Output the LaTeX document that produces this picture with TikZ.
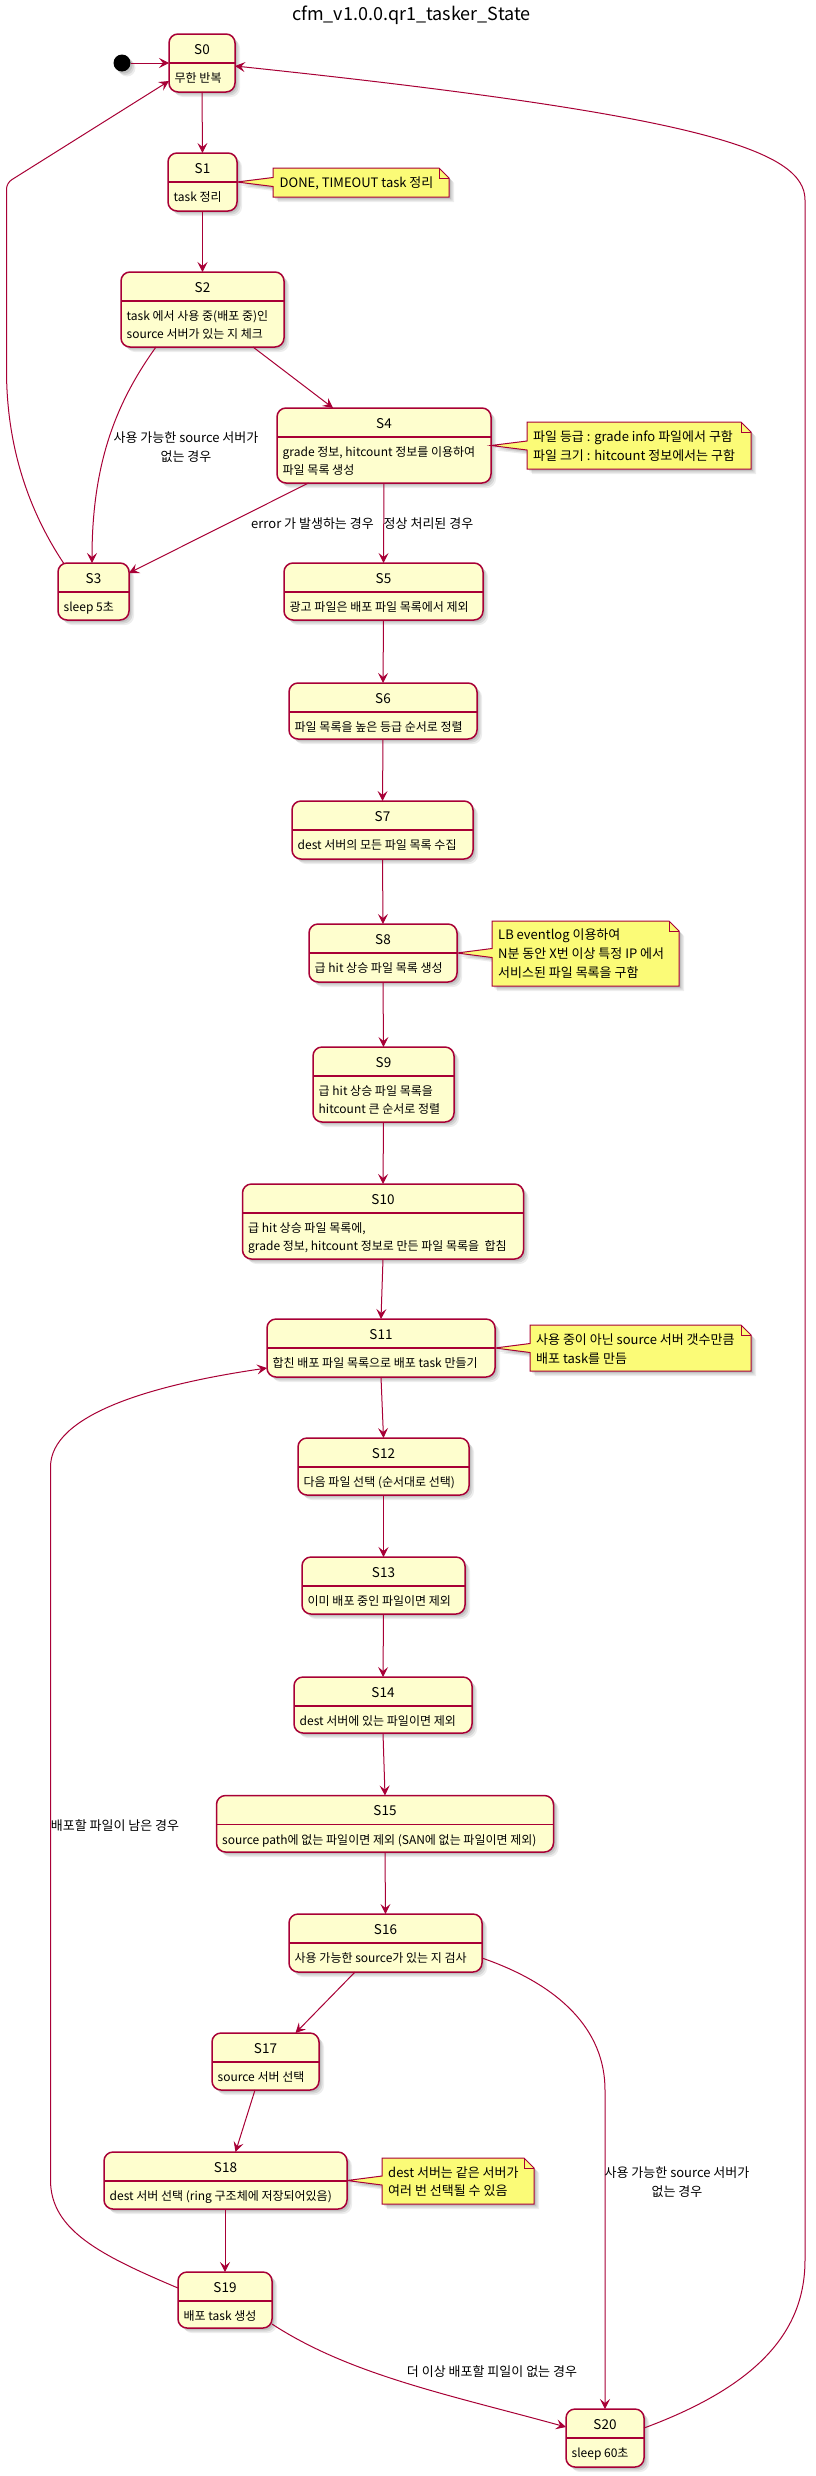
\documentclass[tikz,border=0pt]{standalone}
\usepackage{fontspec}
\setmainfont{Noto Sans CJK KR}
\usetikzlibrary{arrows.meta}
\definecolor{stfill}{HTML}{FEFECE}
\definecolor{stline}{HTML}{A80036}
\definecolor{ntfill}{HTML}{FBFB77}
\newcommand\mynamefont{\fontsize{13.5}{16}\selectfont}
\newcommand\mybodyfont{\fontsize{12}{18}\selectfont}
\newcommand\mynotefont{\fontsize{13}{19}\selectfont}
\newcommand\mylabelfont{\fontsize{13}{19.5}\selectfont}
\newcommand\mytitlefont{\fontsize{18}{22}\selectfont}
\tikzset{
  softshadow/.style={
    preaction={fill=black,opacity=0.10,transform canvas={xshift=2pt,yshift=-2pt}},
    preaction={fill=black,opacity=0.09,transform canvas={xshift=3.5pt,yshift=-3.5pt}},
    preaction={fill=black,opacity=0.07,transform canvas={xshift=5pt,yshift=-5pt}}},
  statebox/.style={softshadow, draw=stline, line width=1.5pt, fill=stfill, rounded corners=9pt, inner sep=0pt, outer sep=0pt},
  divline/.style={draw=stline, line width=1.5pt},
  nametext/.style={font=\mynamefont, inner sep=0pt},
  bodytext/.style={font=\mybodyfont, inner sep=0pt, anchor=base west},
  notebox/.style={softshadow, draw=stline, line width=1pt, fill=ntfill, line join=miter},
  notefold/.style={draw=stline, line width=1pt},
  notetext/.style={font=\mynotefont, inner sep=0pt, anchor=base west},
  edge/.style={draw=stline, line width=1pt, -{Stealth[length=10pt,width=10pt,inset=4pt]}},
  elabel/.style={font=\mylabelfont, inner sep=0pt, align=center},
  initdot/.style={circle, fill=black, minimum size=17pt, inner sep=0pt, softshadow},
  titletext/.style={font=\mytitlefont, inner sep=0pt},
}
% name, x1, y1, x2, y2, title, body line 1
\newcommand\mkstate[7]{%
  \node[statebox, minimum width={(#4)-(#2)}, minimum height={(#5)-(#3)}] (#1) at ({((#2)+(#4))/2},{((#3)+(#5))/2}) {};
  \draw[divline] ([yshift=-29pt]#1.north west) -- ([yshift=-29pt]#1.north east);
  \node[nametext] (#1n) at ([yshift=-15.5pt]#1.north) {#6};
  \node[bodytext] (#1a) at ([xshift=5.5pt,yshift=-48.5pt]#1.north west) {#7};
}
\newcommand\mkline[3]{% state, line index, text
  \node[bodytext] (#1l#2) at ([xshift=5.5pt,yshift={-48.5pt-18.3pt*#2}]#1.north west) {#3};
}
\begin{document}
\begin{tikzpicture}[x=1pt,y=-1pt]
\useasboundingbox (0,0) rectangle (816,2476);
\fill[white] (0,0) rectangle (816,2476);

\node[titletext] (title) at (411.5,15) {cfm\_v1.0.0.qr1\_tasker\_State};

% states
\mkstate{S0}{169}{34}{235}{92}{S0}{무한 반복}
\mkstate{S1}{168}{153}{237}{211}{S1}{task 정리}
\mkstate{S2}{121}{272}{284}{347}{S2}{task 에서 사용 중(배포 중)인}
\mkline{S2}{1}{source 서버가 있는 지 체크}
\mkstate{S3}{58}{563}{129}{620}{S3}{sleep 5초}
\mkstate{S4}{277}{408}{491}{483}{S4}{grade 정보, hitcount 정보를 이용하여}
\mkline{S4}{1}{파일 목록 생성}
\mkstate{S5}{284}{563}{483}{620}{S5}{광고 파일은 배포 파일 목록에서 제외}
\mkstate{S6}{289}{683}{477}{739}{S6}{파일 목록을 높은 등급 순서로 정렬}
\mkstate{S7}{292}{801}{473}{859}{S7}{dest 서버의 모든 파일 목록 수집}
\mkstate{S8}{309}{924}{457}{982}{S8}{급 hit 상승 파일 목록 생성}
\mkstate{S9}{313}{1047}{454}{1122}{S9}{급 hit 상승 파일 목록을}
\mkline{S9}{1}{hitcount 큰 순서로 정렬}
\mkstate{S10}{242.5}{1184}{523.5}{1259}{S10}{급 hit 상승 파일 목록에,}
\mkline{S10}{1}{grade 정보, hitcount 정보로 만든 파일 목록을\ \ 합침}
\mkstate{S11}{267}{1319}{495}{1377}{S11}{합친 배포 파일 목록으로 배포 task 만들기}
\mkstate{S12}{298}{1438}{469}{1495}{S12}{다음 파일 선택 (순서대로 선택)}
\mkstate{S13}{302}{1557}{465}{1614}{S13}{이미 배포 중인 파일이면 제외}
\mkstate{S14}{294}{1677}{472}{1733}{S14}{dest 서버에 있는 파일이면 제외}
\mkstate{S15}{216.5}{1795.5}{553.5}{1852}{S15}{source path에 없는 파일이면 제외 (SAN에 없는 파일이면 제외)}
\mkstate{S16}{289}{1914}{482}{1972}{S16}{사용 가능한 source가 있는 지 검사}
\mkstate{S17}{212}{2033}{319}{2090}{S17}{source 서버 선택}
\mkstate{S18}{104}{2152}{347}{2209}{S18}{dest 서버 선택 (ring 구조체에 저장되어있음)}
\mkstate{S19}{178}{2272}{272}{2328}{S19}{배포 task 생성}
\mkstate{S20}{566}{2409}{644}{2467}{S20}{sleep 60초}

% initial
\node[initdot] (init) at (122,63) {};

% notes
\draw[notebox] (273,168) -- (439,168) -- (449,178) -- (449,197) -- (273,197) -- (273,186.5) -- (S1.east) -- (273,177.5) -- cycle;
\draw[notefold] (439,168) -- (439,178) -- (449,178);
\node[notetext] (N1) at (279.5,187.5) {DONE, TIMEOUT task 정리};

\draw[notebox] (527,422) -- (741,422) -- (751,432) -- (751,469) -- (527,469) -- (527,450) -- (S4.east) -- (527,441) -- cycle;
\draw[notefold] (741,422) -- (741,432) -- (751,432);
\node[notetext] (N4a) at (533,441.8) {파일 등급 : grade info 파일에서 구함};
\node[notetext] (N4b) at (533,460.5) {파일 크기 : hitcount 정보에서는 구함};

\draw[notebox] (492,921) -- (669,921) -- (679,931) -- (679,986) -- (492,986) -- (492,957.5) -- (S8.east) -- (492,948.5) -- cycle;
\draw[notefold] (669,921) -- (669,931) -- (679,931);
\node[notetext] (N8a) at (498,939.5) {LB eventlog 이용하여};
\node[notetext] (N8b) at (498,958.5) {N분 동안 X번 이상 특정 IP 에서};
\node[notetext] (N8c) at (498,977.5) {서비스된 파일 목록을 구함};

\draw[notebox] (530,1325) -- (741,1325) -- (751,1335) -- (751,1371) -- (530,1371) -- (530,1352.5) -- (S11.east) -- (530,1343.5) -- cycle;
\draw[notefold] (741,1325) -- (741,1335) -- (751,1335);
\node[notetext] (N11a) at (536,1344.5) {사용 중이 아닌 source 서버 갯수만큼};
\node[notetext] (N11b) at (536,1363) {배포 task를 만듬};

\draw[notebox] (382,2158) -- (524,2158) -- (534,2168) -- (534,2204) -- (382,2204) -- (382,2185) -- (S18.east) -- (382,2176) -- cycle;
\draw[notefold] (524,2158) -- (524,2168) -- (534,2168);
\node[notetext] (N18a) at (388,2177) {dest 서버는 같은 서버가};
\node[notetext] (N18b) at (388,2195.5) {여러 번 선택될 수 있음};

% edges
\draw[edge] (init) -- (S0.west);
\draw[edge] (S0.south) -- (S1.north);
\draw[edge] (S1.south) -- (S2.north);
\draw[edge] ([xshift=35pt]S2.south west) .. controls (118,400) and (92,460) .. ([xshift=-1.5pt]S3.north);
\draw[edge] ([xshift=132pt]S2.south west) -- ([xshift=56pt]S4.north west);
\draw[edge] ([xshift=31.5pt]S4.south west) -- ([yshift=-10pt]S3.north east);
\draw[edge] (S4.south) -- (S5.north);
\draw[edge] ([xshift=5.5pt]S3.north west) .. controls (25,505) and (6.5,440) .. (6.5,370) [rounded corners=6pt] -- (6.5,183) -- ([yshift=11pt]S0.south west);
\draw[edge] (S5.south) -- (S6.north);
\draw[edge] (S6.south) -- (S7.north);
\draw[edge] (S7.south) -- (S8.north);
\draw[edge] (S8.south) -- (S9.north);
\draw[edge] (S9.south) -- (S10.north);
\draw[edge] (S10.south) -- (S11.north);
\draw[edge] (S11.south) -- (S12.north);
\draw[edge] (S12.south) -- (S13.north);
\draw[edge] (S13.south) -- (S14.north);
\draw[edge] (S14.south) -- (S15.north);
\draw[edge] (S15.south) -- (S16.north);
\draw[edge] ([xshift=66pt]S16.south west) -- ([xshift=83.5pt]S17.north west);
\draw[edge] ([yshift=-15pt]S16.east) .. controls (560,1985) and (605,2030) .. (605,2090) -- (S20.north);
\draw[edge] ([xshift=43pt]S17.south west) -- ([xshift=131.5pt]S18.north west);
\draw[edge] (S19.north |- S18.south) -- (S19.north);
\draw[edge] ([yshift=12pt]S19.west) .. controls (100,2255) and (50.5,2230) .. (50.5,2180) -- (50.5,1467) .. controls (50.5,1415) and (150,1385) .. ([yshift=-20pt]S11.west);
\draw[edge] ([yshift=-24pt]S19.east) .. controls (350,2375) and (450,2395) .. ([yshift=11pt]S20.west);
\draw[edge] ([yshift=10pt]S20.east) .. controls (760,2385) and (805,2330) .. (805,2260) -- (805,200) .. controls (805,150) and (700,115) .. ([yshift=-3pt]S0.east);

% edge labels
\node[elabel] (L23) at (186,447) {사용 가능한 source 서버가\\없는 경우};
\node[elabel] (L43) at (312.5,524) {error 가 발생하는 경우};
\node[elabel] (L45) at (428.5,524) {정상 처리된 경우};
\node[elabel] (L1911) at (115,1826) {배포할 파일이 남은 경우};
\node[elabel] (L1620) at (677,2182) {사용 가능한 source 서버가\\없는 경우};
\node[elabel] (L1920) at (492,2372) {더 이상 배포할 피일이 없는 경우};
\end{tikzpicture}
\end{document}
